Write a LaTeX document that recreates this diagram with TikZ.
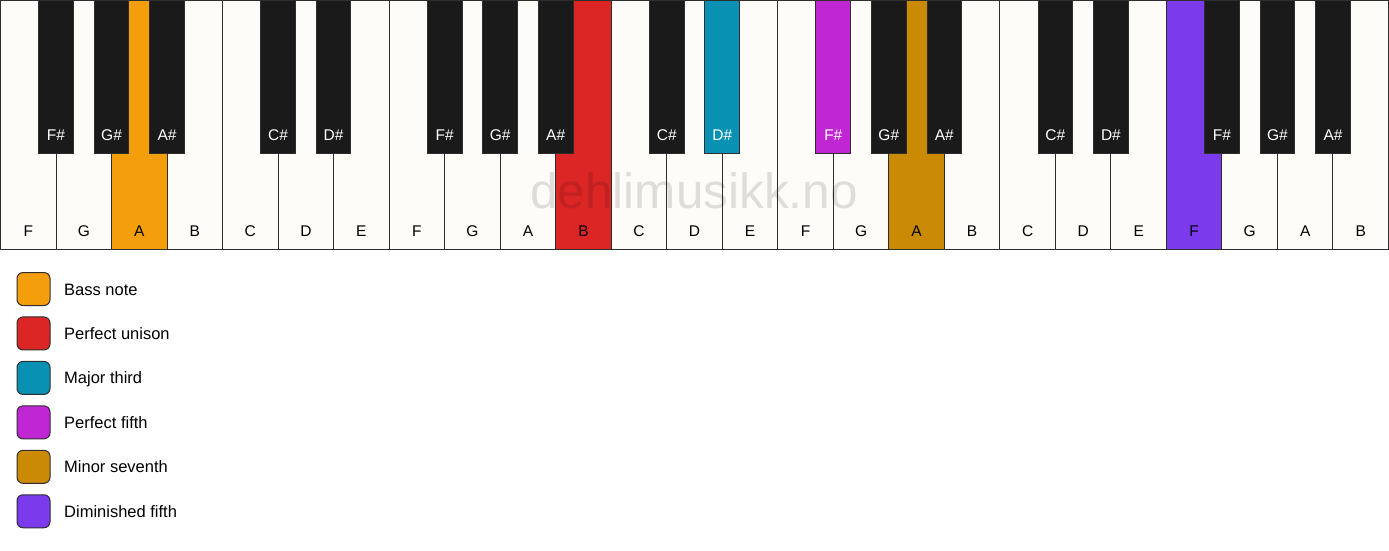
\documentclass[tikz,border=0pt]{standalone}
\usepackage{fontspec}
\setmainfont{Liberation Sans}
\definecolor{keywhite}{HTML}{FDFCF8}
\definecolor{keyblack}{HTML}{1A1A1A}
\definecolor{keyline}{HTML}{2E2E2E}
\definecolor{bass}{HTML}{F59E0B}
\definecolor{unison}{HTML}{DC2626}
\definecolor{third}{HTML}{0891B2}
\definecolor{fifth}{HTML}{C026D3}
\definecolor{seventh}{HTML}{CA8A04}
\definecolor{dimfifth}{HTML}{7C3AED}
\begin{document}
\begin{tikzpicture}[x=1pt,y=-1pt,
  keyframe/.style={draw=keyline,line width=1pt},
  keylabel/.style={font=\fontsize{15.5}{18}\selectfont,inner sep=0pt,anchor=base},
  legendbox/.style={draw=keyline,line width=1pt,rounded corners=6pt,minimum size=33pt,inner sep=0pt},
  legendtext/.style={font=\fontsize{16.5}{19}\selectfont,inner sep=0pt,anchor=base west}]
  % Parameters
  \def\w{55.52}
  \def\bw{34.7}
  \def\bh{153}
  \useasboundingbox (0,0) rectangle (1389,550);

  % White keys
  \foreach \n/\c [count=\i from 0] in {F/keywhite,G/keywhite,A/bass,B/keywhite,
      C/keywhite,D/keywhite,E/keywhite,F/keywhite,G/keywhite,A/keywhite,B/unison,
      C/keywhite,D/keywhite,E/keywhite,F/keywhite,G/keywhite,A/seventh,B/keywhite,
      C/keywhite,D/keywhite,E/keywhite,F/dimfifth,G/keywhite,A/keywhite,B/keywhite}
  {
    \draw[keyframe,fill=\c] (\i*\w+0.5,0.5) rectangle ++(\w,248.5);
    \node[keylabel] (w\i) at (\i*\w+0.5+\w/2,236.7) {\n};
  }

  % Watermark
  \node[font=\fontsize{49.5}{56}\selectfont,text=black,text opacity=0.12,
    inner sep=0pt,anchor=base] (mark) at (694,208) {dehlimusikk.no};

  % Black keys
  \foreach \p/\n/\c in {1/F\#/keyblack,2/G\#/keyblack,3/A\#/keyblack,
      5/C\#/keyblack,6/D\#/keyblack,8/F\#/keyblack,9/G\#/keyblack,10/A\#/keyblack,
      12/C\#/keyblack,13/D\#/third,15/F\#/fifth,16/G\#/keyblack,17/A\#/keyblack,
      19/C\#/keyblack,20/D\#/keyblack,22/F\#/keyblack,23/G\#/keyblack,24/A\#/keyblack}
  {
    \draw[keyframe,fill=\c] (\p*\w+0.5-\bw/2,0.5) rectangle ++(\bw,\bh);
    \node[keylabel,text=white] (b\p) at (\p*\w+0.5,140.5) {\n};
  }

  % Legend
  \foreach \c/\t [count=\i from 0] in {bass/Bass note,unison/Perfect unison,
      third/Major third,fifth/Perfect fifth,seventh/Minor seventh,
      dimfifth/Diminished fifth}
  {
    \node[legendbox,fill=\c] (box\i) at (33.5,289+\i*44.45) {};
    \node[legendtext] (txt\i) at (64,289+\i*44.45+6) {\t};
  }
\end{tikzpicture}
\end{document}
